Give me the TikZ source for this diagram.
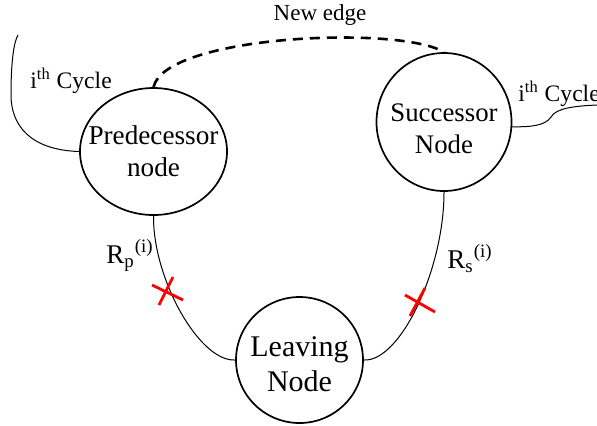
\documentclass[tikz,border=0pt]{standalone}
\usepackage{fontspec}
\setmainfont{Liberation Serif}
\usetikzlibrary{shapes.geometric}

\tikzset{
  vertex/.style={draw, ellipse, line width=0.85pt, inner sep=0pt},
  vtext/.style={inner sep=0pt, align=center},
  wire/.style={line width=0.5pt},
  newedge/.style={line width=1.3pt, dash pattern=on 5pt off 3.5pt},
  cut/.style={draw=red, line width=1.4pt},
  lbl/.style={inner sep=0pt, anchor=base west}
}

\begin{document}
\begin{tikzpicture}[x=0.5pt, y=-0.5pt]
  \useasboundingbox (0,0) rectangle (597,425);

  % the three nodes of the cycle
  \node[vertex, minimum width=73.5pt, minimum height=63.5pt] (pred) at (153.5,151.5) {};
  \node[vertex, minimum width=67.5pt, minimum height=69pt] (succ) at (444,122) {};
  \node[vertex, minimum width=63.5pt, minimum height=63pt] (leave) at (299.5,360) {};
  \node[vtext, font=\fontsize{13.6}{16}\selectfont] (predtxt) at (pred.center) {Predecessor\\node};
  \node[vtext, font=\fontsize{13.4}{16}\selectfont] (succtxt) at ([yshift=-3.5pt]succ.center) {Successor\\Node};
  \node[vtext, font=\fontsize{15}{17.5}\selectfont] (leavetxt) at ([yshift=-2pt]leave.center) {Leaving\\Node};

  % edges from the leaving node
  \draw[wire] (pred.south) .. controls (153,280) and (200,362) .. (leave.west);
  \draw[wire] (succ.south) .. controls (444,270) and (400,362) .. (leave.east);

  % the edge that replaces them
  \draw[newedge] (pred.north) .. controls (165,35) and (400,25) .. (succ.north);
  \node[font=\fontsize{11.5}{13}\selectfont, inner sep=0pt] (newlbl) at (320,15) {New edge};

  % rest of the i-th cycle
  \coordinate (lend) at (18,35);
  \coordinate (rend) at (597,105);
  \draw[wire] (pred.west) .. controls (30,150) and (11,125) .. (11,95)
                         .. controls (11,60) and (14,42) .. (lend);
  \draw[wire] (succ.-4) .. controls (530,127) and (545,126) .. (551,117)
                       .. controls (556,108) and (575,106) .. (rend);
  \node[lbl, font=\fontsize{11.8}{13}\selectfont] (lcyc) at (30,88) {i\textsuperscript{th} Cycle};
  \node[lbl, font=\fontsize{11.8}{13}\selectfont] (rcyc) at (518,101) {i\textsuperscript{th} Cycle};

  % removed-edge labels
  \node[lbl, font=\fontsize{13.5}{15}\selectfont] (rp) at (106,263) {R\textsubscript{p}\textsuperscript{(i)}};
  \node[lbl, font=\fontsize{13.5}{15}\selectfont] (rs) at (447,268) {R\textsubscript{s}\textsuperscript{(i)}};

  % cut marks on the removed edges
  \coordinate (cl1) at (152,285); \coordinate (cl2) at (183,300);
  \coordinate (cl3) at (173,277); \coordinate (cl4) at (159,305);
  \draw[cut] (cl1) -- (cl2); \draw[cut] (cl3) -- (cl4);
  \coordinate (cr1) at (405,295); \coordinate (cr2) at (435,312);
  \coordinate (cr3) at (425,288); \coordinate (cr4) at (410,316);
  \draw[cut] (cr1) -- (cr2); \draw[cut] (cr3) -- (cr4);
\end{tikzpicture}
\end{document}
